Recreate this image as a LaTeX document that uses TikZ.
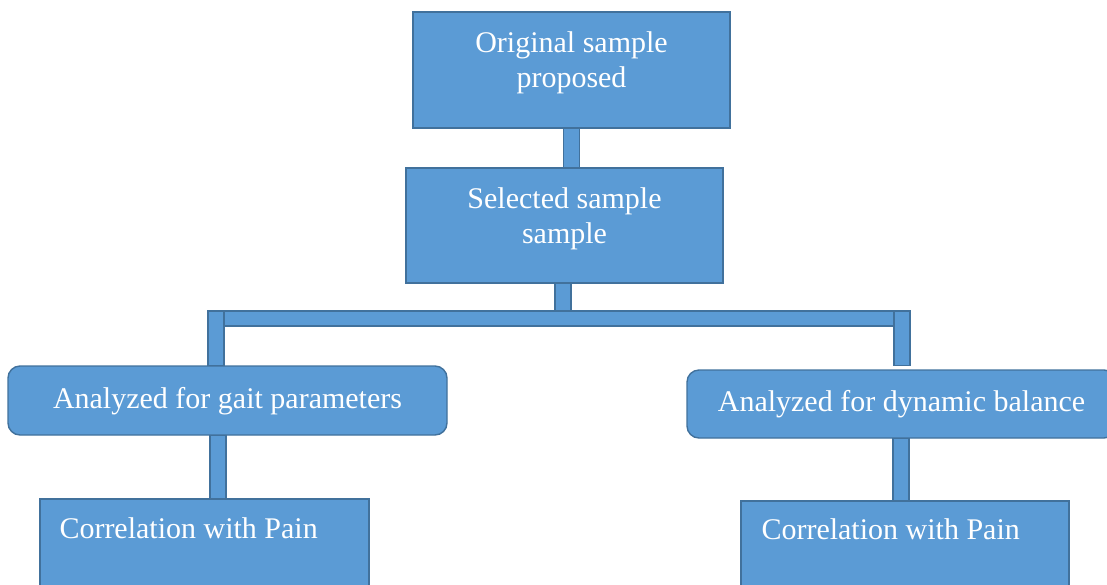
\documentclass[tikz,border=0pt]{standalone}
\usepackage{fontspec}
\setmainfont{Liberation Serif}
\usepackage{tikz}
\usetikzlibrary{positioning}
\definecolor{FlowFill}{HTML}{5B9BD5}
\definecolor{FlowLine}{HTML}{41719C}
\definecolor{FlowText}{HTML}{FFFFFF}

\begin{document}
\begin{tikzpicture}[x=1pt,y=-1pt,
    box/.style={draw=FlowLine,fill=FlowFill,line width=1.4pt,inner sep=0pt},
    roundbox/.style={box,rounded corners=12pt},
    bar/.style={draw=FlowLine,fill=FlowFill,line width=1.4pt},
    txt/.style={text=FlowText,font=\fontsize{30}{35}\selectfont,align=center,inner sep=0pt}]
  \clip (0,0) rectangle (1107,584);
  \node[box,minimum width=317pt,minimum height=116pt] (orig) at (571.5,70) {};
  \node[box,minimum width=317pt,minimum height=115pt] (sel) at (564.5,225.5) {};
  \node[roundbox,minimum width=439pt,minimum height=69pt] (gait) at (227.5,400.5) {};
  \node[roundbox,minimum width=429pt,minimum height=68pt] (dyn) at (901.5,404) {};
  \node[box,minimum width=329pt,minimum height=120pt] (corrL) at (204.5,559) {};
  \node[box,minimum width=328pt,minimum height=120pt] (corrR) at (905,561) {};
  \node[txt,below=20pt of orig.north] (origtext) {Original sample\\proposed};
  \node[txt,below=20.5pt of sel.north] (seltext) {Selected sample\\sample};
  \node[txt,below=21.5pt of gait.north] (gaittext) {Analyzed for gait parameters};
  \node[txt,below=21pt of dyn.north] (dyntext) {Analyzed for dynamic balance};
  \node[txt,below right=19pt and 20pt of corrL.north west] (corrLtext) {Correlation with Pain};
  \node[txt,below right=18pt and 21pt of corrR.north west] (corrRtext) {Correlation with Pain};
  \coordinate (split) at (563,311);
  \coordinate (splitL) at (216,311);
  \coordinate (splitR) at (902,311);
  \draw[bar] ([xshift=-8pt]orig.south) rectangle ([xshift=8pt]orig.south |- sel.north);
  \draw[bar] ([xshift=-8pt]split |- sel.south) rectangle ([xshift=8pt]split);
  \draw[bar] ([xshift=-8pt]splitL) rectangle ([xshift=-7pt,yshift=-15pt]splitR);
  \draw[bar] ([xshift=-8pt]splitL) rectangle ([xshift=8pt]splitL |- gait.north);
  \draw[bar] ([xshift=-8pt]splitR) rectangle ([xshift=8pt,yshift=4pt]splitR |- dyn.north);
  \draw[bar] ([xshift=-6pt]splitL |- gait.south) rectangle ([xshift=10pt]splitL |- corrL.north);
  \draw[bar] ([xshift=-9pt]splitR |- dyn.south) rectangle ([xshift=7pt]splitR |- corrR.north);
\end{tikzpicture}
\end{document}
